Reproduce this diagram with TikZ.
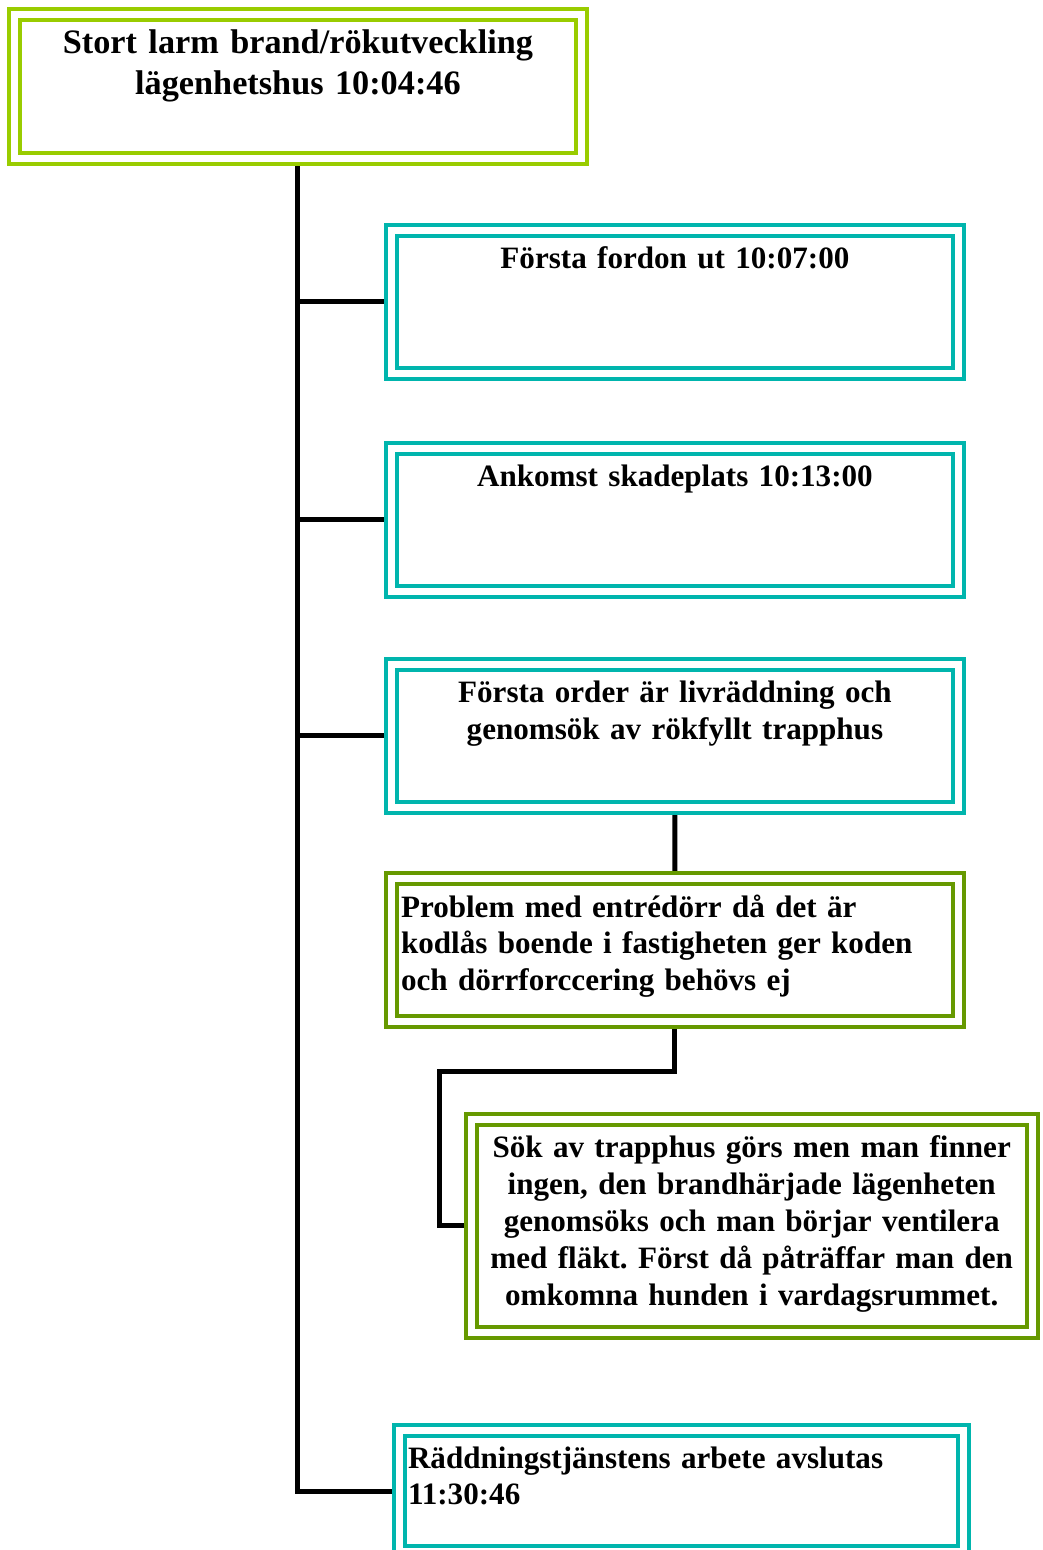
\documentclass[tikz,border=0pt]{standalone}
\usepackage{fontspec}
\setmainfont{Liberation Serif}
\usetikzlibrary{positioning, backgrounds}
\frenchspacing

\definecolor{alarmgreen}{HTML}{99CC00}
\definecolor{stepteal}{HTML}{00B5AD}
\definecolor{stepolive}{HTML}{669900}

\begin{document}
\begin{tikzpicture}[
    x=0.02cm,
    y=-0.02cm,
    thick
  ]

  % Styles
  \tikzstyle{event}=[draw, double=white, line width=0.08cm, double distance=0.14cm, inner ysep=0pt, inner xsep=0.2cm, outer sep=0pt, anchor=north west, font=\fontsize{17.7}{21}\selectfont\bfseries]
  \tikzstyle{alarmbox}=[event, draw=alarmgreen, minimum width=11.34cm, text width=10.94cm, align=center, text height=0.79cm, text depth=2.09cm, font=\fontsize{19.5}{22.8}\selectfont\bfseries]
  \tikzstyle{tealbox}=[event, draw=stepteal, minimum width=11.34cm, text width=10.94cm, align=center, text height=0.77cm, text depth=2.09cm]
  \tikzstyle{olivebox}=[event, draw=stepolive]
  \tikzstyle{link}=[line width=0.1cm, black]

  \clip (0,0) rectangle (1042,1550);

  % Alarm
  \node[alarmbox] (alarm) at (14.5,14.5) {Stort larm brand/rökutveckling\\lägenhetshus 10:04:46};

  % Steps along the trunk
  \node[tealbox] (fordon) at (391.5,230.5) {Första fordon ut 10:07:00};
  \node[tealbox] (ankomst) at (391.5,448.5) {Ankomst skadeplats 10:13:00};
  \node[tealbox] (order) at (391.5,664.5) {Första order är livräddning och\\genomsök av rökfyllt trapphus};

  % Side chain under the first order
  \node[olivebox, minimum width=11.34cm, text width=10.96cm, inner xsep=0.19cm, align=left, text height=0.77cm, text depth=2.09cm] (problem) at (391.5,878.5) {Problem med entrédörr då det är\\kodlås boende i fastigheten ger koden\\och dörrforccering behövs ej};
  \node[olivebox, minimum width=11.23cm, text width=10.83cm, align=center, text height=0.76cm, text depth=3.52cm, font=\fontsize{17.7}{21.1}\selectfont\bfseries] (sok) at (471,1119) {Sök av trapphus görs men man finner\\ingen, den brandhärjade lägenheten\\genomsöks och man börjar ventilera\\med fläkt. Först då påträffar man den\\omkomna hunden i vardagsrummet.};

  % End
  \node[tealbox, minimum width=11.28cm, text width=10.94cm, inner xsep=0.17cm, align=left, text height=0.75cm, text depth=1.67cm] (avslut) at (399.5,1430.5) {Räddningstjänstens arbete avslutas\\11:30:46};

  \coordinate (elbow) at (439.5,1071);

  % Connectors
  \begin{scope}[on background layer]
    \draw[link] (alarm.south) |- (fordon.west);
    \draw[link] (alarm.south) |- (ankomst.west);
    \draw[link] (alarm.south) |- (order.west);
    \draw[link] (alarm.south) |- (avslut.west);
    \draw[link] (order.south) -- (problem.north);
    \draw[link] (problem.south) |- (elbow) |- (sok.west);
  \end{scope}

\end{tikzpicture}
\end{document}
